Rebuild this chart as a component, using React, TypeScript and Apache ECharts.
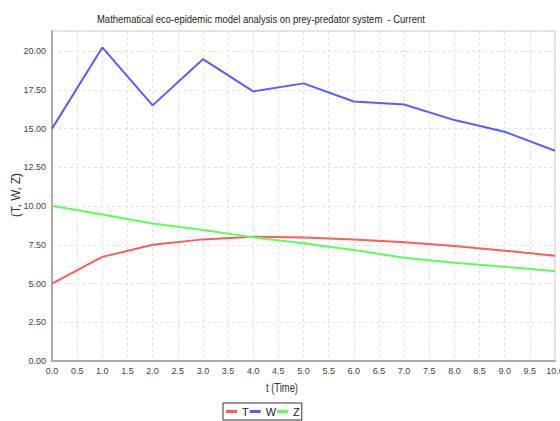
import React, { useEffect, useRef } from "react";
import * as echarts from "echarts";

const times = [0, 1, 2, 3, 4, 5, 6, 7, 8, 9, 10];
const seriesT = [5.0, 6.72, 7.5, 7.85, 8.02, 7.97, 7.85, 7.66, 7.42, 7.12, 6.8];
const seriesW = [15.0, 20.24, 16.5, 19.48, 17.4, 17.92, 16.75, 16.56, 15.55, 14.8, 13.57];
const seriesZ = [10.02, 9.46, 8.88, 8.45, 7.98, 7.6, 7.16, 6.67, 6.34, 6.08, 5.79];
const seriesNames = ["T", "W", "Z"];
const seriesColors = ["#ff5c5c", "#5c5cff", "#5cff5c"];
const titleText = "Mathematical eco-epidemic model analysis on prey-predator system  - Current";
const xName = "t (Time)";
const yName = "(T, W, Z)";

const FONT = "'Liberation Sans', Arial, sans-serif";

function measure(text: string, font: string): number {
  const ctx = document.createElement("canvas").getContext("2d");
  if (!ctx) return 1;
  ctx.font = font;
  return ctx.measureText(text).width || 1;
}

export default function App() {
  const ref = useRef<HTMLDivElement>(null);
  useEffect(() => {
    if (!ref.current) return;
    const chart = echarts.init(ref.current, undefined, { renderer: "svg" });
    const data = [seriesT, seriesW, seriesZ];
    const titleFont = `11px ${FONT}`;
    const nameFont = `12px ${FONT}`;
    const titleScale = 328 / measure(titleText, titleFont);
    const xScale = 32 / measure(xName, nameFont);
    const yScale = 44 / measure(yName, nameFont);
    chart.setOption({
      animation: false,
      backgroundColor: "#ffffff",
      textStyle: { fontFamily: FONT },
      grid: {
        left: 52,
        right: 5,
        top: 31,
        bottom: 60,
        show: true,
        borderColor: "#cccccc",
        borderWidth: 1,
        outerBoundsMode: "none",
        containLabel: false,
      },
      graphic: [
        {
          type: "text",
          x: 97,
          y: 14,
          scaleX: titleScale,
          style: {
            text: titleText,
            font: titleFont,
            fill: "#222",
            align: "left",
            verticalAlign: "top",
          },
        },
        {
          type: "text",
          x: 282,
          y: 382,
          scaleX: xScale,
          style: {
            text: xName,
            font: nameFont,
            fill: "#333",
            align: "center",
            verticalAlign: "top",
          },
        },
        {
          type: "text",
          x: 16,
          y: 195,
          rotation: Math.PI / 2,
          scaleX: yScale,
          style: {
            text: yName,
            font: nameFont,
            fill: "#333",
            align: "center",
            verticalAlign: "middle",
          },
        },
      ],
      legend: {
        left: 223,
        top: 403,
        data: seriesNames,
        icon: "rect",
        itemWidth: 11,
        itemHeight: 3,
        itemGap: 1,
        padding: [3, 2, 3, 3],
        borderColor: "#333",
        borderWidth: 1,
        textStyle: { fontFamily: FONT, fontSize: 11, color: "#222" },
      },
      xAxis: {
        type: "value",
        min: 0,
        max: 10,
        interval: 0.5,
        axisLine: { show: true, lineStyle: { color: "#aaaaaa", width: 2 } },
        axisTick: { show: false },
        axisLabel: {
          formatter: (v: number) => v.toFixed(1),
          fontSize: 9,
          color: "#444",
          margin: 5,
          fontFamily: FONT,
        },
        splitLine: { show: true, lineStyle: { color: "#e2e2e2", type: [3, 3], width: 1 } },
      },
      yAxis: {
        type: "value",
        min: 0,
        max: 21.3,
        interval: 2.5,
        axisLine: { show: true, lineStyle: { color: "#aaaaaa", width: 2 } },
        axisTick: { show: false },
        axisLabel: {
          formatter: (v: number) => (Math.abs(v / 2.5 - Math.round(v / 2.5)) < 1e-6 ? v.toFixed(2) : ""),
          fontSize: 9,
          color: "#444",
          margin: 6,
          fontFamily: FONT,
        },
        splitLine: { show: true, lineStyle: { color: "#e2e2e2", type: [3, 3], width: 1 } },
      },
      series: data.map((d, i) => ({
        name: seriesNames[i],
        type: "line",
        data: times.map((t, j) => [t, d[j]]),
        showSymbol: false,
        symbol: "none",
        lineStyle: { color: seriesColors[i], width: 2 },
        itemStyle: { color: seriesColors[i] },
      })),
    });
    return () => chart.dispose();
  }, []);
  return <div ref={ref} style={{ width: 560, height: 421, position: "absolute", left: 0, top: 0 }} />;
}
